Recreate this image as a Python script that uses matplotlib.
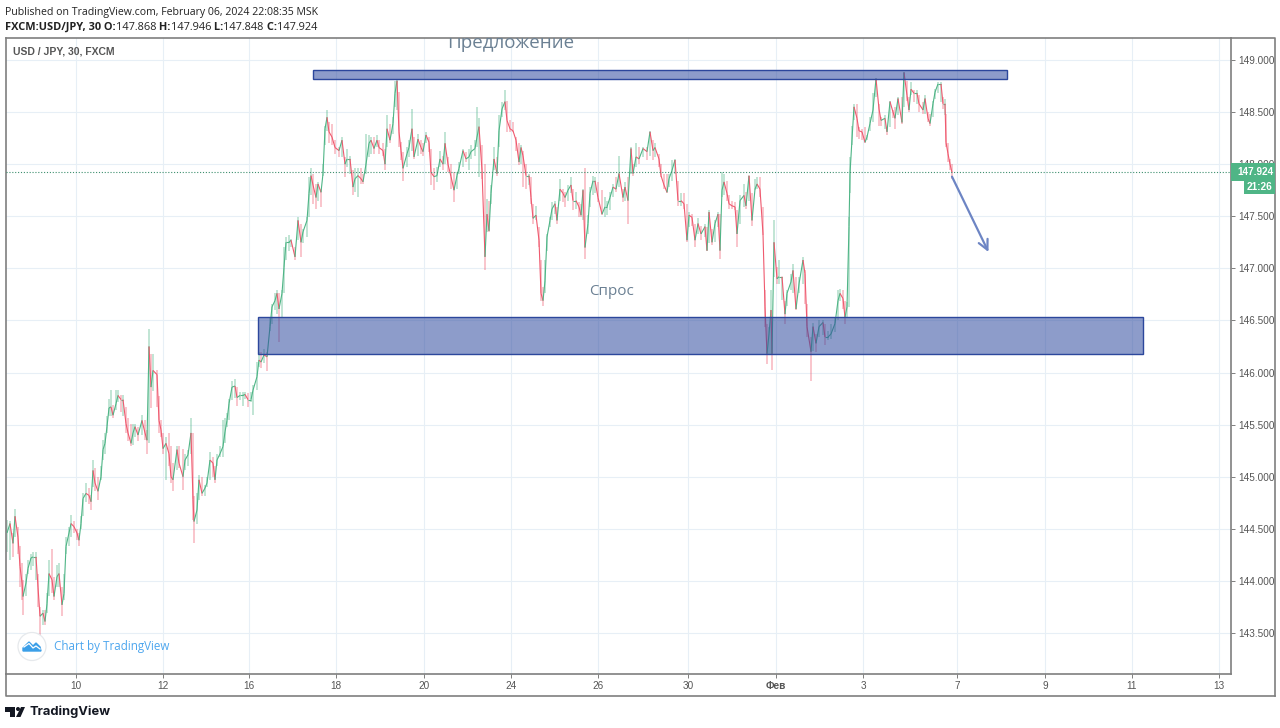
import numpy as np
import matplotlib
matplotlib.use('Agg')
import matplotlib.pyplot as plt
from matplotlib.collections import LineCollection
from matplotlib.lines import Line2D
from matplotlib.patches import Rectangle, Circle, Polygon
from matplotlib.transforms import Affine2D

bars = [7,10,13,15,18,20,22,23,26,28,
    31,33,36,38,40,43,45,47,49,52,
    54,57,59,62,64,66,69,71,74,77,
    79,81,83,86,89,91,93,95,98,101,
    103,105,107,109,111,113,116,118,121,123,
    126,128,131,133,135,138,142,145,147,149,
    151,153,157,159,161,163,166,169,171,173,
    177,179,183,185,188,191,193,194,197,199,
    202,205,207,210,213,215,217,220,223,225,
    227,229,232,235,237,240,243,245,248,251,
    253,257,259,261,264,267,
    270,272,275,277,279,282,284,286,289,291,
    295,298,301,303,307,309,311,313,316,318,
    321,323,325,327,329,332,335,339,342,345,
    347,350,353,355,358,361,363,366,369,371,
    374,377,379,383,385,387,390,393,395,397,
    399,401,403,407,409,412,414,418,421,423,
    426,429,431,434,437,440,443,445,448,451,
    454,457,459,463,466,469,471,475,477,479,
    482,485,487,489,491,494,497,499,502,505,
    507,510,513,516,519,521,523,526,529,531,
    533,536,539,541,543,545,547,550,
    552,555,557,560,563,565,568,571,573,576,
    579,581,583,585,588,590,593,595,598,602,
    605,607,610,613,616,619,623,625,628,631,
    633,636,639,643,647,650,653,655,659,661,
    664,667,669,672,675,678,681,684,687,689,
    692,695,698,701,705,707,709,712,715,718,
    720,722,724,727,729,732,735,737,740,744,
    746,749,752,755,757,760,763,765,767,769,
    771,772,774,777,779,782,785,787,791,793,
    796,799,803,805,807,811,813,816,819,823,
    825,828,831,835,838,
    840,843,845,847,849,850,852,854,857,859,
    862,865,867,870,873,876,879,881,885,887,
    890,893,895,898,902,904,907,909,911,914,
    917,919,923,925,928,930,933,935,938,941,
    943,945,946,948,950,952]
closes = [144.46,144.55,144.36,144.62,144.42,144.14,143.98,143.85,143.98,144.12,
    144.22,144.23,144.23,143.94,143.66,143.69,143.61,143.78,144.07,144.01,
    143.85,144.04,144.07,143.77,143.88,144.33,144.46,144.55,144.52,144.46,
    144.39,144.55,144.79,144.84,144.82,144.76,145.06,144.94,144.86,145.00,
    145.26,145.32,145.48,145.66,145.67,145.59,145.70,145.78,145.74,145.74,
    145.51,145.42,145.32,145.42,145.48,145.40,145.54,145.42,145.35,146.25,
    145.86,146.02,145.98,145.54,145.45,145.27,145.32,145.22,145.00,144.97,
    145.26,145.13,145.00,145.16,145.21,145.42,144.78,144.57,144.68,144.97,
    144.84,144.89,144.94,145.16,145.13,144.97,145.16,145.22,145.29,145.43,
    145.54,145.70,145.86,145.87,145.76,145.78,145.78,145.79,145.74,145.74,
    145.83,145.96,146.12,146.10,146.17,146.15,
    146.44,146.63,146.69,146.76,146.61,146.76,147.01,147.25,147.25,147.27,
    147.11,147.46,147.25,147.35,147.46,147.72,147.89,147.80,147.68,147.81,
    147.73,147.91,148.34,148.45,148.31,148.26,148.16,148.13,148.23,148.00,
    148.05,148.05,147.78,147.86,147.89,147.86,147.83,148.00,148.20,148.23,
    148.15,148.23,148.16,148.13,148.00,148.34,148.23,148.39,148.68,148.80,
    148.31,148.13,147.96,148.10,148.16,148.34,148.07,148.24,148.16,148.12,
    148.28,148.21,147.92,147.88,147.89,148.05,148.00,148.20,148.00,147.88,
    147.75,147.89,147.96,148.13,148.05,148.07,148.12,148.15,148.26,148.36,
    147.94,147.11,147.52,147.36,147.72,148.05,147.91,148.32,148.53,148.60,
    148.42,148.34,148.32,148.23,148.02,148.16,148.08,147.89,147.89,147.68,
    147.48,147.51,147.27,146.76,146.69,146.88,147.30,147.46,
    147.57,147.62,147.46,147.76,147.72,147.68,147.75,147.80,147.65,147.65,
    147.59,147.51,147.75,147.20,147.43,147.72,147.84,147.84,147.68,147.52,
    147.59,147.59,147.68,147.78,147.76,147.91,147.68,147.78,147.65,148.15,
    147.91,148.07,148.05,148.15,148.12,148.31,148.13,148.16,148.05,147.89,
    147.80,147.73,147.86,147.94,148.04,147.65,147.65,147.62,147.27,147.51,
    147.49,147.27,147.43,147.33,147.40,147.17,147.54,147.25,147.43,147.52,
    147.17,147.75,147.83,147.72,147.62,147.60,147.59,147.33,147.65,147.70,
    147.60,147.89,147.46,147.76,147.81,147.76,147.33,146.63,146.18,146.37,
    146.60,146.18,147.25,146.90,146.92,146.92,146.56,146.76,146.87,146.98,
    146.61,146.85,147.08,146.95,146.44,146.20,146.44,146.28,146.44,146.48,
    146.34,146.34,146.37,146.47,146.69,
    146.76,146.71,146.53,146.63,147.40,147.91,148.24,148.55,148.44,148.32,
    148.31,148.21,148.26,148.39,148.52,148.82,148.53,148.42,148.44,148.31,
    148.60,148.50,148.44,148.63,148.40,148.88,148.66,148.52,148.72,148.68,
    148.68,148.58,148.52,148.63,148.44,148.39,148.58,148.69,148.77,148.77,
    148.58,148.58,148.21,148.10,148.00,147.92]
highs = [144.58,144.57,144.46,144.69,144.52,144.33,144.17,144.01,144.07,144.20,
    144.26,144.28,144.28,144.07,143.75,143.72,143.72,143.88,144.20,144.31,
    144.04,144.15,144.17,143.94,144.07,144.42,144.52,144.63,144.57,144.50,
    144.46,144.62,144.84,144.94,144.89,144.82,145.16,145.08,145.00,145.10,
    145.35,145.42,145.58,145.75,145.83,145.69,145.83,145.83,145.78,145.78,
    145.67,145.56,145.51,145.51,145.51,145.48,145.59,145.54,145.45,146.42,
    146.18,146.18,146.02,145.77,145.54,145.42,145.38,145.42,145.29,145.13,
    145.29,145.29,145.27,145.22,145.26,145.56,145.42,144.81,144.84,145.02,
    145.00,144.92,145.00,145.24,145.19,145.10,145.22,145.29,145.54,145.56,
    145.61,145.75,145.92,145.94,145.86,145.81,145.81,145.81,145.80,145.81,
    145.88,146.10,146.20,146.20,146.23,146.20,
    146.53,146.66,146.76,146.79,146.76,146.79,147.20,147.30,147.32,147.28,
    147.20,147.49,147.43,147.38,147.49,147.88,147.96,147.91,147.81,147.83,
    147.76,148.00,148.37,148.52,148.40,148.39,148.23,148.16,148.26,148.07,
    148.15,148.08,147.94,147.96,147.96,147.96,147.91,148.29,148.28,148.26,
    148.26,148.28,148.23,148.20,148.15,148.47,148.39,148.45,148.80,148.82,
    148.69,148.21,148.12,148.16,148.23,148.53,148.26,148.29,148.23,148.20,
    148.31,148.26,148.15,147.96,147.97,148.13,148.08,148.31,148.07,148.00,
    147.92,147.92,148.02,148.15,148.12,148.15,148.18,148.23,148.55,148.44,
    148.18,148.00,147.67,147.65,147.80,148.16,148.07,148.47,148.60,148.71,
    148.61,148.42,148.40,148.26,148.20,148.18,148.13,148.00,147.91,147.88,
    147.62,147.60,147.40,147.08,146.82,147.08,147.33,147.49,
    147.64,147.65,147.59,147.86,147.76,147.73,147.80,147.88,147.76,147.73,
    147.64,147.62,147.76,147.96,147.51,147.78,147.89,147.88,147.83,147.75,
    147.68,147.65,147.73,147.81,147.88,148.08,147.76,147.83,147.88,148.16,
    148.00,148.20,148.16,148.16,148.16,148.32,148.23,148.20,148.10,148.00,
    147.91,147.91,147.91,148.04,148.05,147.84,147.72,147.72,147.62,147.54,
    147.52,147.43,147.48,147.41,147.43,147.40,147.56,147.38,147.46,147.54,
    147.52,147.92,147.91,147.84,147.70,147.65,147.64,147.56,147.70,147.81,
    147.73,147.89,147.72,147.86,147.88,147.88,147.59,146.79,146.47,146.44,
    146.79,146.44,147.46,147.01,147.08,146.92,146.69,146.79,146.95,147.04,
    146.92,146.92,147.11,146.98,146.66,146.34,146.48,146.37,146.50,146.50,
    146.47,146.40,146.47,146.53,146.79,
    146.80,146.79,146.69,146.68,147.49,148.07,148.37,148.58,148.58,148.36,
    148.34,148.36,148.28,148.45,148.68,148.83,148.58,148.45,148.47,148.36,
    148.61,148.52,148.55,148.64,148.64,148.88,148.80,148.64,148.79,148.71,
    148.71,148.66,148.60,148.66,148.50,148.48,148.61,148.72,148.79,148.79,
    148.64,148.63,148.48,148.20,148.05,148.00]
lows = [144.28,144.20,144.23,144.42,144.26,143.94,143.82,143.67,143.85,144.07,
    144.10,144.14,144.01,143.75,143.48,143.58,143.58,143.69,143.85,143.88,
    143.82,143.94,143.94,143.66,143.82,144.26,144.33,144.42,144.46,144.39,
    144.33,144.50,144.62,144.76,144.74,144.68,144.90,144.86,144.78,144.97,
    145.16,145.22,145.42,145.58,145.58,145.56,145.64,145.72,145.62,145.58,
    145.42,145.34,145.29,145.30,145.38,145.34,145.40,145.35,145.22,145.32,
    145.66,145.82,145.67,145.42,145.38,145.22,144.97,145.10,144.94,144.86,
    145.06,145.08,144.87,145.06,145.10,145.22,144.58,144.36,144.55,144.78,
    144.81,144.81,144.90,144.97,145.00,144.94,145.10,145.19,145.19,145.32,
    145.48,145.54,145.74,145.76,145.68,145.74,145.68,145.75,145.67,145.72,
    145.59,145.83,146.05,146.04,146.09,146.01,
    146.40,146.47,146.60,146.56,146.29,146.53,146.76,147.08,147.17,147.20,
    147.08,147.27,147.11,147.24,147.30,147.49,147.70,147.62,147.57,147.65,
    147.59,147.89,148.18,148.32,148.20,148.18,148.10,148.07,148.07,147.88,
    147.97,147.91,147.70,147.73,147.68,147.81,147.81,147.91,148.07,148.10,
    148.10,148.16,148.10,148.08,147.94,148.16,148.20,148.29,148.55,148.52,
    148.16,148.04,147.84,147.97,148.07,148.13,148.05,148.08,148.10,148.08,
    148.20,148.12,147.80,147.75,147.83,147.97,147.94,148.00,147.92,147.76,
    147.64,147.76,147.91,147.97,148.02,147.94,148.05,148.08,148.16,147.88,
    147.86,146.98,147.35,147.35,147.62,147.94,147.89,148.16,148.45,148.52,
    148.31,148.31,148.31,148.13,147.99,148.00,147.78,147.76,147.80,147.62,
    147.43,147.46,147.20,146.69,146.64,146.76,147.17,147.40,
    147.46,147.52,147.43,147.65,147.64,147.59,147.65,147.72,147.56,147.57,
    147.49,147.49,147.46,147.09,147.33,147.59,147.70,147.72,147.64,147.51,
    147.49,147.51,147.56,147.68,147.73,147.78,147.64,147.65,147.43,147.91,
    147.89,147.97,148.00,148.07,148.04,148.08,148.04,148.07,147.97,147.88,
    147.76,147.72,147.78,147.84,147.91,147.60,147.60,147.57,147.25,147.40,
    147.41,147.20,147.33,147.27,147.30,147.17,147.24,147.22,147.25,147.40,
    147.09,147.68,147.70,147.65,147.57,147.57,147.56,147.20,147.43,147.59,
    147.57,147.65,147.41,147.75,147.76,147.68,147.32,146.44,146.08,146.17,
    146.18,146.02,146.92,146.85,146.85,146.70,146.47,146.64,146.79,146.76,
    146.60,146.76,146.85,146.66,146.34,145.92,146.21,146.20,146.34,146.36,
    146.26,146.31,146.32,146.39,146.50,
    146.69,146.61,146.47,146.53,146.63,147.72,148.18,148.42,148.26,148.24,
    148.23,148.20,148.23,148.32,148.40,148.64,148.37,148.37,148.34,148.28,
    148.36,148.44,148.34,148.47,148.39,148.55,148.61,148.50,148.66,148.60,
    148.58,148.50,148.48,148.48,148.40,148.37,148.45,148.63,148.68,148.60,
    148.53,148.47,148.16,148.02,147.94,147.86]

time_ticks = [76,163,249,336,424,511,598,688,776,863,957,1045,1132,1219]
time_labels = ['10','12','16','18','20','24','26','30','Фев','3','7','9','11','13']
price_ticks = [143.5,144,144.5,145,145.5,146,146.5,147,147.5,148,148.5,149]
last_price = 147.924
supply_zone = (313, 1007, 148.818, 148.904)
demand_zone = (258, 1143, 146.18, 146.53)
arrow_from = (952, 147.88)
arrow_to = (988.5, 147.157)

W, H = 1280, 728
UP, DOWN = '#4fb586', '#ef5a6f'
GRID = '#e7eff6'
FRAME = '#7f7f7f'
TXT = '#555555'
FONT = ['Liberation Sans', 'DejaVu Sans']
plt.rcParams['font.family'] = FONT

fig = plt.figure(figsize=(W/100, H/100), dpi=100, facecolor='white')
ax = fig.add_axes([6/W, 1-674/H, 1225/W, 636/H])
ax.set_xlim(6, 1231)
ax.set_ylim(143.106, 149.211)
px = Affine2D().scale(1/W, -1/H).translate(0, 1) + fig.transFigure

ax.set_xticks(time_ticks, time_labels)
ax.yaxis.tick_right()
ax.set_yticks(price_ticks, ['%.3f' % p for p in price_ticks])
ax.tick_params(axis='both', length=3, width=0.7, color=FRAME, labelcolor=TXT, labelsize=7.2, pad=2)
ax.get_xticklabels()[8].set_fontweight('bold')
ax.grid(True, color=GRID, lw=0.8)
ax.set_axisbelow(True)
for s in ax.spines.values():
    s.set_color(FRAME)
    s.set_linewidth(1.2)

# candles: pale wicks, then the close to close path coloured by direction
x = np.array(bars, dtype=float)
c = np.array(closes)
hi = np.array(highs)
lo = np.array(lows)
prev = np.r_[c[0], c[:-1]]
colors = [UP if b >= a else DOWN for a, b in zip(prev, c)]
ax.vlines(x, lo, hi, colors=colors, lw=1.3, alpha=0.38, zorder=2)
xprev = np.r_[x[0], x[:-1]]
segs = [[(x0, p0), (x1, p1)] for x0, p0, x1, p1 in zip(xprev, prev, x, c)]
ax.add_collection(LineCollection(segs, colors=colors, linewidths=0.8, zorder=3))

ax.axhline(last_price, color='#3d8f6e', lw=0.8, ls=(0, (1, 1.6)), zorder=4)

for x0, x1, p0, p1 in (supply_zone, demand_zone):
    ax.add_patch(Rectangle((x0, p0), x1-x0, p1-p0, facecolor=(0.184, 0.294, 0.627, 0.55),
                           edgecolor='#2c479c', lw=1.0, zorder=5))
ax.annotate('', xy=arrow_to, xytext=arrow_from, zorder=6,
            arrowprops=dict(arrowstyle='->,head_length=0.7,head_width=0.35', color='#6d85c4', lw=1.6,
                            shrinkA=0, shrinkB=0))

ax.text(511, 149.163, 'Предложение', color='#6b8093', fontsize=13.5, ha='center', va='center',
        family=['Open Sans', 'DejaVu Sans'], clip_on=True, zorder=7)
ax.text(611.5, 146.78, 'Спрос', color='#6b8093', fontsize=11, ha='center', va='center',
        family=['Open Sans', 'DejaVu Sans'], zorder=7)
ax.text(13, 149.077, 'USD / JPY, 30, FXCM', color=TXT, fontsize=7.5, fontweight='bold', va='center', zorder=7)

# frame around the price and time scales
for xs, ys in (([1231, 1275, 1275], [38, 38, 696]), ([6, 6, 1275], [674, 696, 696])):
    fig.add_artist(Line2D(xs, ys, color=FRAME, lw=1.2, transform=px))

# last price labels
fig.add_artist(Rectangle((1231, 163), 44, 18, facecolor=UP, edgecolor='none', transform=px, zorder=5))
fig.add_artist(Rectangle((1244, 181), 31, 13, facecolor=UP, edgecolor='none', transform=px, zorder=5))
fig.text(1255/W, 1-172/H, '147.924', color='white', fontsize=7.2, fontweight='bold', ha='center', va='center', zorder=6)
fig.text(1259.5/W, 1-187.5/H, '21:26', color='white', fontsize=7.2, fontweight='bold', ha='center', va='center', zorder=6)

# header
HEAD = ['Open Sans', 'DejaVu Sans']
fig.text(5/W, 1-12.5/H, 'Published on TradingView.com, February 06, 2024 22:08:35 MSK', color='#222222',
         fontsize=7.6, family=HEAD, va='center')
rend = fig.canvas.get_renderer()
pos = 5
for part, weight in (('FXCM:USD/JPY, 30', 'bold'), (' O:', 'bold'), ('147.868', 'normal'), (' H:', 'bold'),
                     ('147.946', 'normal'), (' L:', 'bold'), ('147.848', 'normal'), (' C:', 'bold'),
                     ('147.924', 'normal')):
    t = fig.text(pos/W, 1-27/H, part.replace(' ', '\u00a0'), color='#222222', fontsize=7.95, family=HEAD,
                 fontweight=weight, va='center')
    pos = t.get_window_extent(rend).x1

# chart by badge
fig.add_artist(Circle((32, 646.5), 14, facecolor='white', edgecolor='#e6e9ec', lw=0.9, transform=px, zorder=6))
fig.add_artist(Polygon([(23, 651), (23, 648), (26, 645), (29, 642), (33, 646), (36, 643), (40, 647), (41, 651)],
                       facecolor='#3b9fe8', edgecolor='#3b9fe8', lw=1, transform=px, zorder=7))
fig.add_artist(Line2D([24, 29, 33, 36, 40], [647, 643.5, 648, 646, 649], color='white', lw=0.9, transform=px, zorder=8))
fig.text(54/W, 1-646.5/H, 'Chart by TradingView', color='#4da6ee', fontsize=8.4, family=['Open Sans', 'DejaVu Sans'],
         va='center', zorder=7)

# footer logo
DARK = '#131722'
fig.add_artist(Polygon([(5, 707), (15, 707), (15, 717), (10, 717), (10, 712), (5, 712)],
                       facecolor=DARK, edgecolor='none', transform=px))
fig.add_artist(Circle((18, 709), 2, facecolor=DARK, edgecolor='none', transform=px))
fig.add_artist(Polygon([(21, 707), (25, 707), (20.5, 717), (16, 717)], facecolor=DARK, edgecolor='none', transform=px))
fig.text(29/W, 1-712/H, 'TradingView', color=DARK, fontsize=9.3, fontweight='bold', family=['Inter', 'DejaVu Sans'], va='center')

fig.savefig('out.png', dpi=100)
